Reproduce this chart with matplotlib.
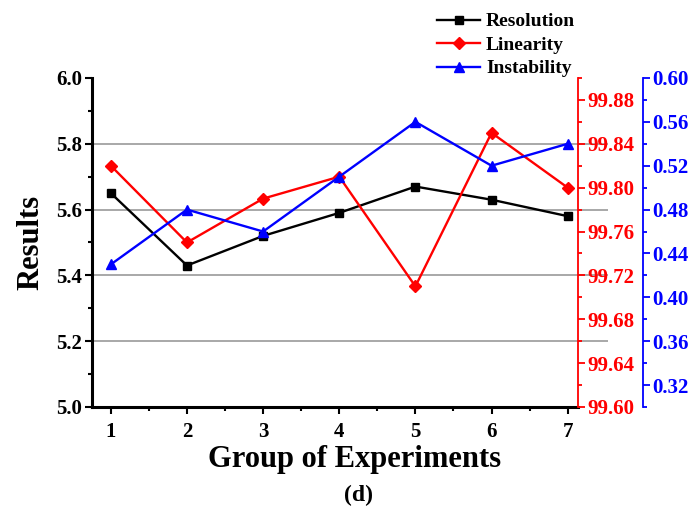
import matplotlib
matplotlib.use('Agg')
import matplotlib.pyplot as plt
from matplotlib.ticker import MultipleLocator

groups = [1, 2, 3, 4, 5, 6, 7]
resolution = [5.65, 5.43, 5.52, 5.59, 5.67, 5.63, 5.58]
linearity = [99.82, 99.75, 99.79, 99.81, 99.71, 99.85, 99.80]
instability = [0.43, 0.48, 0.46, 0.51, 0.56, 0.52, 0.54]
grid_levels = [5.2, 5.4, 5.6, 5.8]
red_ticks = [99.60, 99.64, 99.68, 99.72, 99.76, 99.80, 99.84, 99.88]
blue_ticks = [0.32, 0.36, 0.40, 0.44, 0.48, 0.52, 0.56, 0.60]

plt.rcParams['font.family'] = ['Liberation Serif', 'DejaVu Serif']
plt.rcParams['font.weight'] = 'bold'


def style_ticks(ax, color):
    ax.tick_params(axis='y', which='major', direction='out', length=5, width=1.3,
                   colors=color, labelsize=15, pad=2)
    ax.tick_params(axis='y', which='minor', direction='out', length=3, width=1.3,
                   colors=color)
    for lbl in ax.get_yticklabels():
        lbl.set_fontweight('bold')


def main():
    fig = plt.figure(figsize=(6.93, 5.09), dpi=100)
    ax = fig.add_axes([0.133, 0.2004, 0.701, 0.6464])
    ax_r = ax.twinx()
    ax_b = ax.twinx()

    # horizontal gray lines, they run past the red axis a bit
    ax.hlines(grid_levels, 0, (608 - 92) / 486.0, transform=ax.get_yaxis_transform(),
              colors='#9a9a9a', linewidth=1.2, clip_on=False, zorder=0)

    l1, = ax.plot(groups, resolution, color='black', marker='s', markersize=6,
                  linewidth=1.7, label='Resolution', zorder=3)
    l2, = ax_r.plot(groups, linearity, color='red', marker='D', markersize=6,
                    linewidth=1.7, label='Linearity', zorder=3)
    l3, = ax_b.plot(groups, instability, color='blue', marker='^', markersize=7,
                    linewidth=1.7, label='Instability', zorder=3)

    ax.set_xlim(0.755, 7.135)
    ax.set_ylim(5.0, 6.0)
    ax_r.set_ylim(99.60, 99.90)
    ax_b.set_ylim(0.30, 0.60)

    ax.set_xticks(groups)
    ax.xaxis.set_minor_locator(MultipleLocator(0.5))
    ax.yaxis.set_major_locator(MultipleLocator(0.2))
    ax.yaxis.set_minor_locator(MultipleLocator(0.1))
    ax_r.yaxis.set_minor_locator(MultipleLocator(0.02))
    ax_b.yaxis.set_minor_locator(MultipleLocator(0.02))
    ax_r.set_yticks(red_ticks)
    ax_r.set_yticklabels(['%.2f' % v for v in red_ticks])
    ax_b.set_yticks(blue_ticks)
    ax_b.set_yticklabels(['%.2f' % v for v in blue_ticks])

    ax.tick_params(axis='x', which='major', direction='out', length=5, width=1.5,
                   labelsize=15, pad=6)
    ax.tick_params(axis='x', which='minor', direction='out', length=3, width=1.5)
    ax.tick_params(axis='y', which='major', direction='out', length=5, width=1.5,
                   labelsize=15, pad=2)
    ax.tick_params(axis='y', which='minor', direction='out', length=3, width=1.5)
    for lbl in ax.get_xticklabels() + ax.get_yticklabels():
        lbl.set_fontweight('bold')

    style_ticks(ax_r, 'red')
    style_ticks(ax_b, 'blue')

    for a in (ax, ax_r, ax_b):
        a.spines['top'].set_visible(False)
    ax.spines['right'].set_visible(False)
    ax.spines['left'].set_linewidth(2.2)
    ax.spines['bottom'].set_linewidth(2.2)
    ax_r.spines['left'].set_visible(False)
    ax_r.spines['bottom'].set_visible(False)
    ax_r.spines['right'].set_color('red')
    ax_r.spines['right'].set_linewidth(1.3)
    ax_b.spines['left'].set_visible(False)
    ax_b.spines['bottom'].set_visible(False)
    ax_b.spines['right'].set_position(('axes', 1 + 65 / 486.0))
    ax_b.spines['right'].set_color('blue')
    ax_b.spines['right'].set_linewidth(1.3)

    ax.set_ylabel('Results', fontsize=22, fontweight='bold', labelpad=8)
    fig.text(0.511, 0.098, 'Group of Experiments', fontsize=22, fontweight='bold',
             ha='center', va='center')
    fig.text(0.517, 0.027, '(d)', fontsize=17, fontweight='bold',
             ha='center', va='center')

    leg = fig.legend([l1, l2, l3], ['Resolution', 'Linearity', 'Instability'],
                     loc='upper left', bbox_to_anchor=(0.62, 0.99), frameon=False,
                     fontsize=14, handlelength=2.2, handletextpad=0.3,
                     labelspacing=0.3, borderaxespad=0)
    for t in leg.get_texts():
        t.set_fontweight('bold')

    fig.savefig('out.png', dpi=100)


if __name__ == "__main__":
    main()
